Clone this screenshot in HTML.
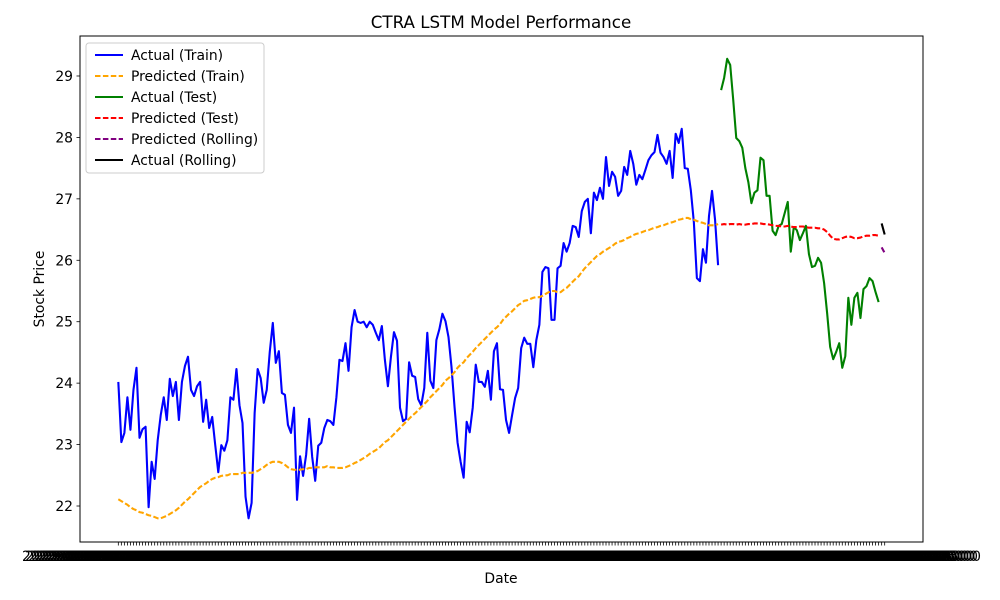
<!DOCTYPE html>
<html><head><meta charset="utf-8"><style>
body{margin:0;background:#fff;}
svg{display:block;font-family:"DejaVu Sans","Liberation Sans",sans-serif;}
</style></head><body>
<svg id="chart" width="1000" height="600" viewBox="0 0 1000 600" xmlns="http://www.w3.org/2000/svg">
<rect width="1000" height="600" fill="#fff"/>
<text x="501" y="28" text-anchor="middle" font-size="16.7" fill="#000">CTRA LSTM Model Performance</text>
<g id="plot"></g>
<rect x="80" y="36" width="843" height="506" fill="none" stroke="#000" stroke-width="1"/>
<text x="501" y="583" text-anchor="middle" font-size="13.9">Date</text>
<text transform="translate(44,289) rotate(-90)" text-anchor="middle" font-size="13.9">Stock Price</text>
<g>
<rect x="86" y="43" width="178" height="130" rx="3" fill="#fff" fill-opacity="0.8" stroke="#ccc"/>
<g><line x1="95" y1="55" x2="123" y2="55" stroke="blue" stroke-width="2"/><text x="131" y="60" font-size="13.9">Actual (Train)</text></g>
<g><line x1="95" y1="76" x2="123" y2="76" stroke="orange" stroke-width="2" stroke-dasharray="5.5,2.4"/><text x="131" y="81" font-size="13.9">Predicted (Train)</text></g>
<g><line x1="95" y1="97" x2="123" y2="97" stroke="green" stroke-width="2"/><text x="131" y="102" font-size="13.9">Actual (Test)</text></g>
<g><line x1="95" y1="118" x2="123" y2="118" stroke="red" stroke-width="2" stroke-dasharray="5.5,2.4"/><text x="131" y="123" font-size="13.9">Predicted (Test)</text></g>
<g><line x1="95" y1="139" x2="123" y2="139" stroke="purple" stroke-width="2" stroke-dasharray="5.5,2.4"/><text x="131" y="144" font-size="13.9">Predicted (Rolling)</text></g>
<g><line x1="95" y1="160" x2="123" y2="160" stroke="black" stroke-width="2"/><text x="131" y="165" font-size="13.9">Actual (Rolling)</text></g>
</g>
</svg>
<script>
const actualTrain=[24.02,23.04,23.19,23.77,23.24,23.89,24.25,23.11,23.25,23.29,
21.98,22.72,22.44,23.07,23.48,23.77,23.40,24.07,23.79,24.02,
23.40,24.02,24.28,24.43,23.89,23.79,23.95,24.02,23.37,23.73,
23.27,23.45,22.99,22.55,22.99,22.90,23.07,23.77,23.73,24.23,
23.64,23.35,22.15,21.80,22.05,23.51,24.23,24.08,23.68,23.89,
24.51,24.98,24.33,24.52,23.84,23.81,23.32,23.19,23.60,22.10,
22.81,22.49,22.83,23.42,22.80,22.41,22.98,23.03,23.27,23.40,
23.38,23.32,23.77,24.38,24.36,24.65,24.20,24.91,25.19,25.00,
24.98,25.00,24.91,25.00,24.95,24.82,24.70,24.93,24.38,23.95,
24.43,24.83,24.69,23.60,23.38,23.42,24.34,24.12,24.10,23.74,
23.64,23.92,24.82,24.04,23.92,24.70,24.88,25.13,25.01,24.75,
24.26,23.61,23.03,22.72,22.46,23.37,23.20,23.60,24.30,24.02,
24.02,23.94,24.20,23.73,24.52,24.65,23.90,23.89,23.40,23.19,
23.48,23.76,23.92,24.57,24.74,24.64,24.64,24.26,24.70,24.95,
25.81,25.89,25.87,25.03,25.03,25.87,25.91,26.28,26.14,26.28,
26.56,26.54,26.38,26.80,26.95,27.00,26.44,27.10,26.98,27.18,
27.00,27.68,27.21,27.44,27.36,27.05,27.13,27.52,27.39,27.78,
27.57,27.23,27.39,27.32,27.47,27.63,27.71,27.76,28.04,27.75,
27.68,27.57,27.78,27.34,28.06,27.91,28.14,27.50,27.49,27.14,
26.62,25.71,25.66,26.18,25.96,26.72,27.13,26.66,25.92];
const predictedTrain=[22.11,22.08,22.05,22.02,21.98,21.95,21.93,21.90,21.89,21.87,
21.85,21.84,21.82,21.80,21.80,21.82,21.84,21.87,21.90,21.93,
21.97,22.02,22.07,22.11,22.16,22.21,22.26,22.31,22.34,22.37,
22.41,22.44,22.46,22.47,22.49,22.50,22.50,22.52,22.52,22.52,
22.52,22.54,22.54,22.54,22.54,22.55,22.57,22.60,22.63,22.67,
22.70,22.72,22.72,22.72,22.70,22.67,22.63,22.60,22.59,22.59,
22.59,22.60,22.60,22.62,22.62,22.63,22.63,22.63,22.63,22.65,
22.63,22.63,22.62,22.62,22.62,22.63,22.65,22.67,22.70,22.72,
22.75,22.78,22.81,22.85,22.88,22.91,22.94,22.99,23.04,23.07,
23.12,23.17,23.22,23.27,23.32,23.37,23.42,23.47,23.51,23.56,
23.61,23.66,23.71,23.77,23.82,23.87,23.92,23.97,24.04,24.08,
24.13,24.18,24.25,24.30,24.34,24.41,24.46,24.51,24.57,24.62,
24.67,24.72,24.77,24.82,24.87,24.91,24.96,25.03,25.08,25.13,
25.17,25.22,25.27,25.30,25.34,25.35,25.37,25.39,25.40,25.40,
25.42,25.45,25.48,25.50,25.50,25.48,25.48,25.52,25.55,25.60,
25.65,25.70,25.74,25.81,25.87,25.92,25.97,26.02,26.07,26.10,
26.14,26.17,26.20,26.23,26.27,26.30,26.31,26.33,26.36,26.38,
26.41,26.43,26.44,26.46,26.48,26.49,26.51,26.53,26.54,26.56,
26.57,26.59,26.61,26.62,26.64,26.66,26.67,26.69,26.69,26.67,
26.66,26.64,26.62,26.61,26.59,26.57,26.57,26.57,26.59];
const actualTest=[28.77,28.97,29.28,29.18,28.61,27.99,27.94,27.83,27.50,27.27,
26.93,27.10,27.14,27.67,27.63,27.05,27.05,26.48,26.41,26.56,
26.59,26.77,26.95,26.14,26.54,26.49,26.33,26.44,26.56,26.10,
25.89,25.91,26.04,25.96,25.63,25.14,24.59,24.39,24.51,24.65,
24.25,24.44,25.39,24.95,25.39,25.47,25.06,25.53,25.58,25.71,
25.66,25.48,25.32];
const predictedTest=[26.58,26.59,26.58,26.59,26.59,26.58,26.59,26.58,26.58,26.59,
26.59,26.60,26.60,26.60,26.59,26.59,26.58,26.57,26.56,26.56,
26.55,26.55,26.56,26.55,26.54,26.54,26.55,26.55,26.54,26.53,
26.53,26.53,26.52,26.52,26.50,26.46,26.40,26.35,26.34,26.34,
26.36,26.38,26.39,26.38,26.36,26.36,26.37,26.39,26.40,26.40,
26.41,26.41,26.40];
const actualRolling=[26.60,26.42];
const predictedRolling=[26.21,26.12];
const yTicks=[22,23,24,25,26,27,28,29];

const NS="http://www.w3.org/2000/svg";
const plot=document.getElementById('plot');
const nTotal=actualTrain.length+actualTest.length+actualRolling.length;
const L=80,R=923,T=36,B=542;
const span=(nTotal-1)*1.1;
function xs(i){return L+(i+(nTotal-1)*0.05)/span*(R-L);}
const yMin=21.414,yMax=29.651;
function ys(v){return B-(v-yMin)/(yMax-yMin)*(B-T);}
function mk(tag,attrs){const e=document.createElementNS(NS,tag);for(const k in attrs)e.setAttribute(k,attrs[k]);return e;}

const d0=new Date(Date.UTC(2023,0,3));
const xLabels=[];
for(let i=0;i<nTotal;i++){const d=new Date(d0.getTime()+i*86400000*1.43);xLabels.push(d.toISOString().slice(0,10)+" 00:00:00-05:00");}
const xg=mk('g',{});


document.getElementById('chart').appendChild(xg);
xLabels.forEach((lab,i)=>{
  const t=mk('line',{x1:xs(i),x2:xs(i),y1:B,y2:B+3.5,stroke:'#000','stroke-width':0.8});
  
  
  xg.appendChild(t);
  const tx=mk('text',{x:xs(i),y:B+19,'text-anchor':'middle','font-size':13.9});
  
  
  tx.textContent=lab;xg.appendChild(tx);
});
const yg=mk('g',{});


document.getElementById('chart').appendChild(yg);
yTicks.forEach(v=>{
  const t=mk('line',{x1:L-3.5,x2:L,y1:ys(v),y2:ys(v),stroke:'#000','stroke-width':0.8});
  
  
  yg.appendChild(t);
  const tx=mk('text',{x:L-7,y:ys(v)+5,'text-anchor':'end','font-size':13.9});
  
  
  tx.textContent=v;yg.appendChild(tx);
});
function series(vals,off,color,dash,name){
  const pts=vals.map((v,i)=>xs(i+off).toFixed(2)+','+ys(v).toFixed(2)).join(' ');
  const p=mk('polyline',{points:pts,fill:'none',stroke:color,'stroke-width':2.1,'stroke-linejoin':'round'});
  if(dash)p.setAttribute('stroke-dasharray','5.5,2.4');
  
  
  plot.appendChild(p);
}
const nTr=actualTrain.length,nTe=actualTest.length;
series(actualTrain,0,'blue',false,'actual-train-line');
series(predictedTrain,0,'orange',true,'predicted-train-line');
series(actualTest,nTr,'green',false,'actual-test-line');
series(predictedTest,nTr,'red',true,'predicted-test-line');
series(predictedRolling,nTr+nTe,'purple',true,'predicted-rolling-line');
series(actualRolling,nTr+nTe,'black',false,'actual-rolling-line');
</script>
</body></html>
